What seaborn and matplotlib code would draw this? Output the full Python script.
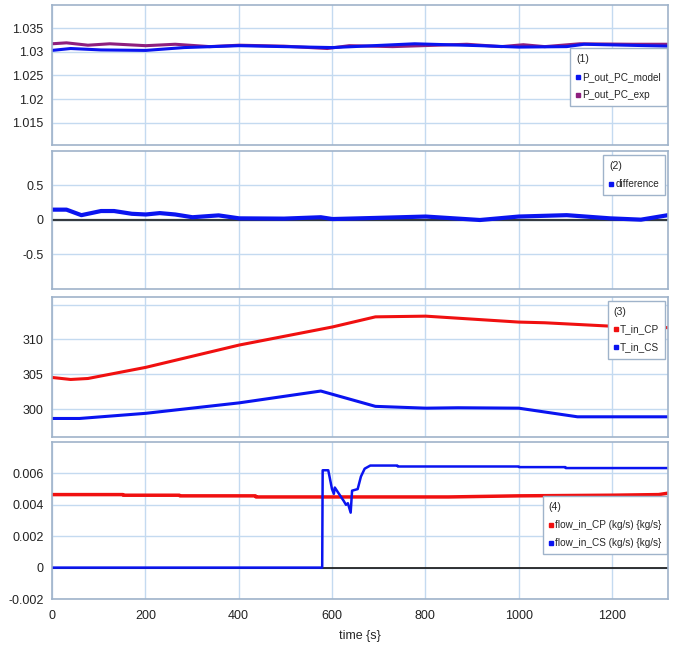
import numpy as np
import pandas as pd
import matplotlib
matplotlib.use("Agg")
import matplotlib.pyplot as plt
from matplotlib.lines import Line2D
import seaborn as sns

# ------------------------------------------
# Data
# ------------------------------------------

# panel (1) pressure
t_model = [0, 40, 105, 201, 283, 401, 497, 601, 777, 917, 1000, 1103, 1140, 1320]
p_model = [1.0303, 1.0307, 1.0304, 1.0303, 1.0309, 1.0313, 1.0311, 1.0309,
           1.0317, 1.0313, 1.0310, 1.0311, 1.0316, 1.0312]
t_exp = [0, 31, 77, 124, 201, 264, 338, 401, 497, 590, 637, 730, 889, 963,
         1010, 1056, 1131, 1243, 1320]
p_exp = [1.0317, 1.0319, 1.0314, 1.0317, 1.0313, 1.0316, 1.0311, 1.0314,
         1.0312, 1.0307, 1.0313, 1.0311, 1.0316, 1.0311, 1.0315, 1.0311,
         1.0317, 1.0316, 1.0316]

# panel (2) difference
t_diff = [0, 31, 63, 105, 133, 171, 201, 231, 264, 301, 357, 401, 497, 576,
          601, 693, 801, 917, 1000, 1103, 1196, 1262, 1320]
v_diff = [0.15, 0.15, 0.07, 0.13, 0.13, 0.09, 0.08, 0.10, 0.08, 0.04, 0.067,
          0.024, 0.02, 0.04, 0.014, 0.03, 0.05, 0.0, 0.05, 0.07, 0.024, 0.005, 0.07]

# panel (3) temperatures
t_cp = [0, 40, 77, 201, 401, 601, 693, 801, 1000, 1056, 1201, 1320]
T_cp = [304.55, 304.26, 304.4, 306.0, 309.2, 311.8, 313.25, 313.35, 312.5,
        312.4, 311.9, 311.7]
t_cs = [0, 59, 201, 401, 576, 693, 801, 870, 1000, 1126, 1320]
T_cs = [298.66, 298.66, 299.4, 300.9, 302.6, 300.4, 300.14, 300.2, 300.14,
        298.9, 298.9]

# panel (4) mass flows
t_fcp = [0, 152, 153, 273, 274, 436, 437, 850, 1000, 1200, 1300, 1320]
f_cp = [0.00465, 0.00465, 0.00461, 0.00461, 0.00457, 0.00457, 0.00450,
        0.00450, 0.00457, 0.00461, 0.00465, 0.00474]
t_fcs = [0, 579, 580, 592, 600, 604, 606, 625, 630, 634, 640, 643, 655, 662,
         670, 682, 740, 741, 1000, 1001, 1100, 1101, 1320]
f_cs = [0, 0, 0.0062, 0.0062, 0.0050, 0.0047, 0.0051, 0.00425, 0.0040, 0.0041,
        0.0035, 0.0049, 0.0050, 0.0058, 0.0063, 0.0065, 0.0065, 0.00644,
        0.00644, 0.0064, 0.0064, 0.00634, 0.00634]

x_ticks = [0, 200, 400, 600, 800, 1000, 1200]

# ------------------------------------------
# Style
# ------------------------------------------

sns.set_style("white")
plt.rcParams["font.family"] = ["Liberation Sans", "DejaVu Sans"]

BLUE = "#0a14f0"
RED = "#f01010"
PURPLE = "#8e1f7f"
GRID = "#c4daf0"
EDGE = "#9fb3ca"

W, H = 683, 645
fig = plt.figure(figsize=(W / 100, H / 100), dpi=100)

# pixel boxes: (top, bottom)
boxes = [(5, 145), (151, 289), (297, 437), (442, 599)]
left, right = 52, 668
axes = []
for top, bot in boxes:
    ax = fig.add_axes([left / W, 1 - bot / H, (right - left) / W, (bot - top) / H])
    axes.append(ax)


def style(ax, yticks, ylim, labels=None):
    ax.set_xlim(0, 1320)
    ax.set_ylim(*ylim)
    ax.set_xticks(x_ticks)
    ax.set_yticks(yticks)
    if labels is not None:
        ax.set_yticklabels(labels)
    ax.grid(True, color=GRID, linewidth=1.0)
    ax.set_axisbelow(True)
    for s in ax.spines.values():
        s.set_color(EDGE)
        s.set_linewidth(1.2)
    ax.tick_params(length=0, labelsize=9, pad=6, colors="#222222")
    ax.set_xlabel("")
    ax.set_ylabel("")


def legend(ax, title, items, bbox):
    handles = [Line2D([], [], marker="s", markersize=3, linestyle="none",
                      color=c) for c, _ in items]
    leg = ax.legend(handles, [n for _, n in items], title=title,
                    loc="upper right", bbox_to_anchor=bbox, frameon=True,
                    fancybox=False, framealpha=1, edgecolor=EDGE,
                    fontsize=7.2, title_fontsize=7.6, alignment="left",
                    handlelength=0.4, handletextpad=0.2, borderpad=0.6,
                    labelspacing=0.8, borderaxespad=0)
    leg.get_frame().set_linewidth(1.0)


# Panel 1
ax = axes[0]
sns.lineplot(x=t_exp, y=p_exp, ax=ax, color=PURPLE, linewidth=2.2)
sns.lineplot(x=t_model, y=p_model, ax=ax, color=BLUE, linewidth=2.2)
style(ax, [1.015, 1.02, 1.025, 1.03, 1.035], (1.0103, 1.0399),
      ["1.015", "1.02", "1.025", "1.03", "1.035"])
ax.set_xticklabels([])
legend(ax, "(1)", [(BLUE, "P_out_PC_model"), (PURPLE, "P_out_PC_exp")],
       (0.998, 0.69))

# Panel 2
ax = axes[1]
ax.axhline(0, color="#333a40", linewidth=1.6, zorder=2)
sns.lineplot(x=t_diff, y=v_diff, ax=ax, color=BLUE, linewidth=3)
style(ax, [-0.5, 0, 0.5], (-1, 1), ["-0.5", "0", "0.5"])
ax.set_xticklabels([])
legend(ax, "(2)", [(BLUE, "difference")], (0.995, 0.97))

# Panel 3
ax = axes[2]
sns.lineplot(x=t_cp, y=T_cp, ax=ax, color=RED, linewidth=2.2)
sns.lineplot(x=t_cs, y=T_cs, ax=ax, color=BLUE, linewidth=2.2)
style(ax, [300, 305, 310, 315], (296.0, 316.1), ["300", "305", "310", ""])
ax.set_xticklabels([])
legend(ax, "(3)", [(RED, "T_in_CP"), (BLUE, "T_in_CS")], (0.995, 0.975))

# Panel 4
ax = axes[3]
ax.axhline(0, color="#111111", linewidth=1.2, zorder=2)
sns.lineplot(x=t_fcp, y=f_cp, ax=ax, color=RED, linewidth=2.5)
sns.lineplot(x=t_fcs, y=f_cs, ax=ax, color=BLUE, linewidth=1.8)
style(ax, [-0.002, 0, 0.002, 0.004, 0.006], (-0.002, 0.008),
      ["-0.002", "0", "0.002", "0.004", "0.006"])
ax.set_xticklabels([str(v) for v in x_ticks])
ax.tick_params(axis="x", pad=8)
ax.set_xlabel("time {s}", fontsize=9, labelpad=6)
legend(ax, "(4)", [(RED, "flow_in_CP (kg/s) {kg/s}"),
                   (BLUE, "flow_in_CS (kg/s) {kg/s}")], (0.998, 0.655))

fig.savefig("out.png", dpi=100)
